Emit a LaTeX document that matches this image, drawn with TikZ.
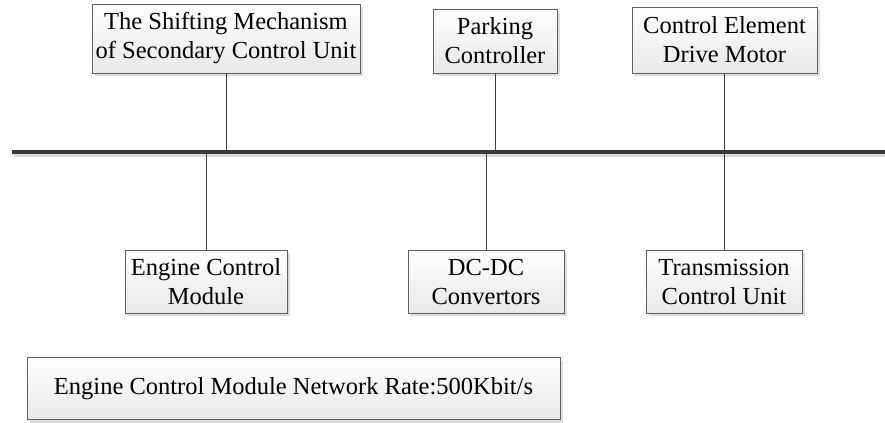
\documentclass[tikz,border=0pt]{standalone}
\usepackage{fontspec}
\setmainfont{Liberation Serif}
\usetikzlibrary{shadows}
\begin{document}
\begin{tikzpicture}[x=1bp,y=-1bp,
  unitbox/.style={draw=black!62, line width=0.8bp, top color=white, bottom color=black!9,
    drop shadow={shadow xshift=3bp, shadow yshift=-3bp, fill=black!22, opacity=0.6},
    inner sep=0pt, align=center, font=\fontsize{24.5bp}{29bp}\selectfont},
  link/.style={draw=black!75, line width=1bp},
  busline/.style={draw=black!78, line width=4bp}]
\useasboundingbox (0,0) rectangle (885,422);
% bus
\coordinate (busL) at (12,152);
\coordinate (busR) at (885,152);
\draw[draw=black!15, line width=3bp] (14,155) -- (885,155);
\draw[busline] (busL) -- (busR);
% top units
\node[unitbox, minimum width=268bp, minimum height=69bp] (b1) at (226,38.5) {The Shifting Mechanism\\of Secondary Control Unit};
\node[unitbox, minimum width=124bp, minimum height=64bp] (b2) at (495,41) {Parking\\Controller};
\node[unitbox, minimum width=185bp, minimum height=66bp] (b3) at (724.5,40) {Control Element\\Drive Motor};
% bottom units
\node[unitbox, minimum width=162bp, minimum height=63bp] (b4) at (206,281.5) {Engine Control\\Module};
\node[unitbox, minimum width=156bp, minimum height=63bp] (b5) at (486,281.5) {DC-DC\\Convertors};
\node[unitbox, minimum width=156bp, minimum height=63bp] (b6) at (724,281.5) {Transmission\\Control Unit};
% rate box
\node[unitbox, minimum width=533bp, minimum height=62bp] (b7) at (293.5,388.5) {Engine Control Module Network Rate:500Kbit/s};
% links
\draw[link] (b1.south) -- (b1.south |- busL);
\draw[link] (b2.south) -- (b2.south |- busL);
\draw[link] (b3.south) -- (b3.south |- busL);
\draw[link] (b4.north |- busL) -- (b4.north);
\draw[link] (b5.north |- busL) -- (b5.north);
\draw[link] (b6.north |- busL) -- (b6.north);
\draw[busline] (busL) -- (busR);
\end{tikzpicture}
\end{document}
